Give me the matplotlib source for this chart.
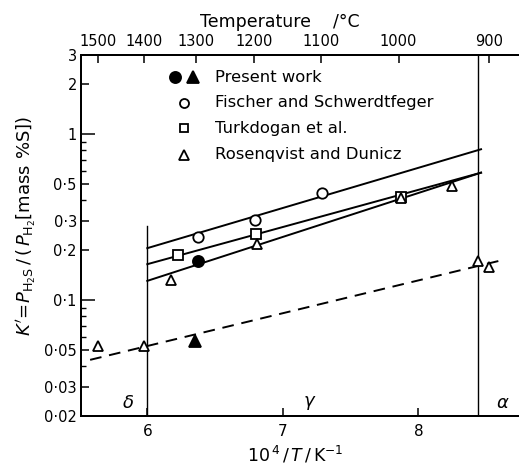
import matplotlib
matplotlib.use("Agg")
import matplotlib.pyplot as plt
from matplotlib.ticker import FixedLocator, NullFormatter

# ---- data ----
present_circle_x = [6.376]
present_circle_y = [0.171]
present_tri_x = [6.352]
present_tri_y = [0.057]
fischer_x = [6.372, 6.795, 7.291]
fischer_y = [0.241, 0.304, 0.44]
turk_x = [6.229, 6.802, 7.872]
turk_y = [0.187, 0.25, 0.418]
rosen_x = [5.638, 5.976, 6.173, 6.807, 7.87, 8.246, 8.443, 8.524]
rosen_y = [0.053, 0.0527, 0.132, 0.217, 0.41, 0.488, 0.171, 0.159]

fischer_line_x = [6.0, 8.463]
fischer_line_y = [0.2055, 0.811]
turk_line_x = [6.0, 8.463]
turk_line_y = [0.1645, 0.586]
present_line_x = [6.0, 8.463]
present_line_y = [0.1305, 0.586]
dashed_line_x = [5.578, 8.626]
dashed_line_y = [0.0436, 0.1746]

y_ticks = [3, 2, 1, 0.5, 0.3, 0.2, 0.1, 0.05, 0.03, 0.02]
y_ticklabels = ["3", "2", "1", "0·5", "0·3", "0·2", "0·1", "0·05", "0·03", "0·02"]
y_minor = [0.9, 0.8, 0.7, 0.6, 0.4, 0.09, 0.08, 0.07, 0.06, 0.04]
x_ticks = [6, 7, 8]
temps_C = [1500, 1400, 1300, 1200, 1100, 1000, 900]
delta_gamma = 6.0
gamma_alpha = 8.44

plt.rcParams['font.family'] = ['DejaVu Sans']
plt.rcParams['mathtext.fontset'] = 'dejavusans'

W, H = 519, 466
fig = plt.figure(figsize=(W / 100, H / 100), dpi=100)
L, R, B, T = 81, 519, 416, 55
ax = fig.add_axes([L / W, (H - B) / H, (R - L) / W, (B - T) / H])
ax.set_yscale('log')
ax.set_xlim(5.5107, 8.743)
ax.set_ylim(0.02, 3)

for s in ax.spines.values():
    s.set_linewidth(1.4)
ax.spines['right'].set_visible(False)

lw = 1.4
ax.plot(fischer_line_x, fischer_line_y, color='black', lw=lw)
ax.plot(turk_line_x, turk_line_y, color='black', lw=lw)
ax.plot(present_line_x, present_line_y, color='black', lw=lw)
ax.plot(dashed_line_x, dashed_line_y, color='black', lw=lw, dashes=(6, 4))

ax.axvline(gamma_alpha, color='black', lw=1.0)
ax.plot([delta_gamma, delta_gamma], [0.02, 0.28], color='black', lw=1.0)

mk = dict(linestyle='none', markeredgecolor='black', markeredgewidth=1.3, zorder=5)
ax.plot(fischer_x, fischer_y, marker='o', ms=7.5, markerfacecolor='white', **mk)
ax.plot(turk_x, turk_y, marker='s', ms=6.5, markerfacecolor='white', **mk)
ax.plot(rosen_x, rosen_y, marker='^', ms=7.5, markerfacecolor='white', **mk)
ax.plot(present_circle_x, present_circle_y, marker='o', ms=8, markerfacecolor='black', **mk)
ax.plot(present_tri_x, present_tri_y, marker='^', ms=8, markerfacecolor='black', **mk)

# y ticks
ax.yaxis.set_major_locator(FixedLocator(y_ticks))
ax.set_yticklabels(y_ticklabels)
ax.yaxis.set_minor_locator(FixedLocator(y_minor))
ax.yaxis.set_minor_formatter(NullFormatter())
ax.tick_params(axis='y', which='major', direction='in', length=6, width=1.1,
               labelsize=10.5, pad=3)
ax.tick_params(axis='y', which='minor', direction='in', length=3.5, width=1.0)
for v, t in zip(y_ticks, ax.yaxis.get_major_ticks()):
    if v in (1, 0.1):
        t.tick1line.set_markersize(10)

# x ticks
ax.set_xticks(x_ticks)
ax.set_xticklabels([str(v) for v in x_ticks])
ax.tick_params(axis='x', which='both', direction='in', length=6, width=1.1,
               labelsize=11, pad=6, top=False)
ax.xaxis.set_minor_locator(FixedLocator([]))

# top axis (temperature)
ax2 = ax.twiny()
ax2.set_xlim(ax.get_xlim())
ax2.spines['right'].set_visible(False)
for s in ax2.spines.values():
    s.set_linewidth(1.4)
ax2.set_xticks([1e4 / (t + 273.15) for t in temps_C])
ax2.set_xticklabels([str(t) for t in temps_C])
ax2.tick_params(axis='x', direction='in', length=6, width=1.1, labelsize=10.5, pad=4)

# axis labels
fig.text(295 / W, 1 - 455 / H, r"$10^{\,4}\,/\,T\,/\,\mathrm{K}^{-1}$", ha='center',
         va='center', fontsize=12.5)
fig.text(280 / W, 1 - 22 / H, "Temperature    /°C", ha='center', va='center', fontsize=12.5)
fig.text(27 / W, 1 - 226 / H,
         r"$K'\!=\!P_{\mathrm{H_2S}}\,/\,(\,P_{\mathrm{H_2}}$[mass %S])",
         rotation=90, ha='center', va='center', fontsize=13)

# phase labels
def ax_frac(px, py):
    return (px - L) / (R - L), (B - py) / (B - T)

for sym, px in [(r"$\delta$", 128), (r"$\gamma$", 310), (r"$\alpha$", 503)]:
    fx, fy = ax_frac(px, 403)
    ax.text(fx, fy, sym, transform=ax.transAxes, ha='center', va='center', fontsize=13)

# legend (manual)
rows = [(77, "Present work"), (103, "Fischer and Schwerdtfeger"),
        (128, "Turkdogan et al."), (155, "Rosenqvist and Dunicz")]
lm = dict(transform=ax.transAxes, clip_on=False, linestyle='none',
          markeredgecolor='black', markeredgewidth=1.3)
fx, fy = ax_frac(175, rows[0][0]); ax.plot(fx, fy, marker='o', ms=8, markerfacecolor='black', **lm)
fx, fy = ax_frac(193, rows[0][0]); ax.plot(fx, fy, marker='^', ms=8, markerfacecolor='black', **lm)
fx, fy = ax_frac(184, rows[1][0]); ax.plot(fx, fy, marker='o', ms=6.5, markerfacecolor='white', **lm)
fx, fy = ax_frac(184, rows[2][0]); ax.plot(fx, fy, marker='s', ms=5.5, markerfacecolor='white', **lm)
fx, fy = ax_frac(184, rows[3][0]); ax.plot(fx, fy, marker='^', ms=7, markerfacecolor='white', **lm)
for py, txt in rows:
    fx, fy = ax_frac(215, py)
    ax.text(fx, fy, txt, transform=ax.transAxes, ha='left', va='center', fontsize=11.8)

fig.savefig("out.png", dpi=100)
